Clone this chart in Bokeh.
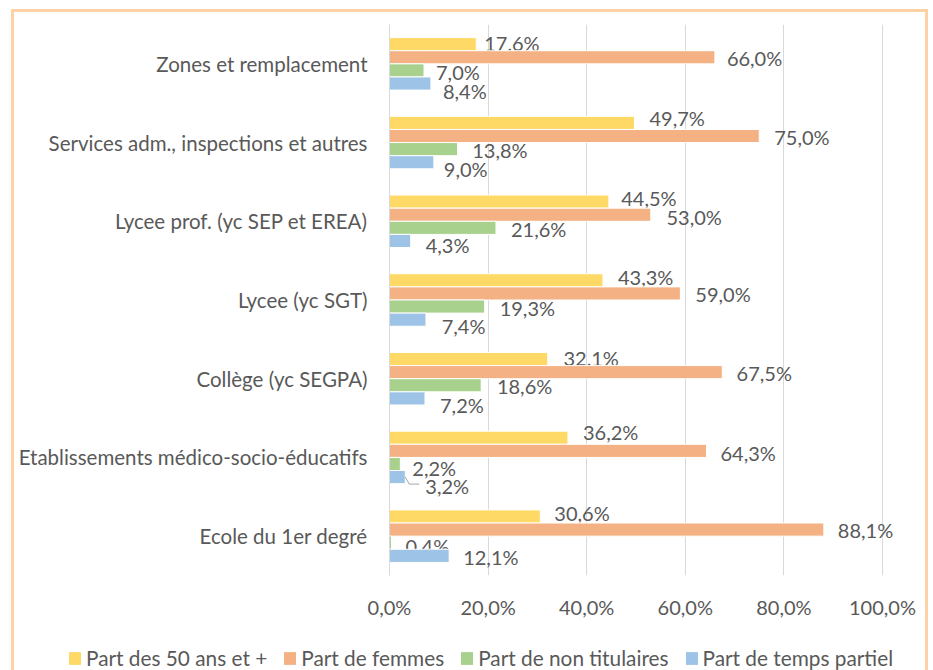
from bokeh.plotting import figure
from bokeh.layouts import column
from bokeh.models import ColumnDataSource, Range1d, FixedTicker, Legend, LegendItem
from bokeh.core.properties import value
from bokeh.embed import file_html
from bokeh.resources import INLINE

# ---- data (bottom to top) ----
categories = [
    "Ecole du 1er degré",
    "Etablissements médico-socio-éducatifs",
    "Collège (yc SEGPA)",
    "Lycee (yc SGT)",
    "Lycee prof. (yc SEP et EREA)",
    "Services adm., inspections et autres",
    "Zones et remplacement",
]
series_names = ["Part des 50 ans et +", "Part de femmes",
                "Part de non titulaires", "Part de temps partiel"]
part_50_plus = [30.6, 36.2, 32.1, 43.3, 44.5, 49.7, 17.6]
part_femmes = [88.1, 64.3, 67.5, 59.0, 53.0, 75.0, 66.0]
part_non_titulaires = [0.4, 2.2, 18.6, 19.3, 21.6, 13.8, 7.0]
part_temps_partiel = [12.1, 3.2, 7.2, 7.4, 4.3, 9.0, 8.4]
x_ticks = [0, 20, 40, 60, 80, 100]
x_tick_labels = ["0,0%", "20,0%", "40,0%", "60,0%", "80,0%", "100,0%"]

# ---- styles / positions ----
colors = ["#FFD966", "#F4B183", "#A9D18E", "#9DC3E6"]
bar_offsets = [0.25, 0.0833, -0.0833, -0.25]
bar_height = 0.1667
label_dx = [
    [14, 15, 15.7, 15, 12.3, 15, 8],
    [14, 14, 14.3, 15, 15.7, 15, 12],
    [14, 12, 15.7, 15, 15, 14.7, 12],
    [14, 20, 15, 15.7, 15, 10, 12],
]
label_dy = [  # pixels, positive = down
    [-3.5, -5.5, -1, -3.3, -4, -5, -1],
    [0, 1.7, 1.3, 1, 2, 1.4, 1],
    [3.0, 4.3, 1, 1.7, 1.5, 1, 2],
    [0.7, 9.3, 6.3, 6.7, 4.5, 6.7, 7],
]
TEXT = "#595959"
GRID = "#D9D9D9"
FONT = "Lato"

series_values = [part_50_plus, part_femmes, part_non_titulaires, part_temps_partiel]

# main canvas
BORDER_L, BORDER_R, BORDER_T, BORDER_B = 375, 2, 12, 55
CANVAS_W, CANVAS_H = 911, 618
FRAME_W = CANVAS_W - BORDER_L - BORDER_R
FRAME_H = CANVAS_H - BORDER_T - BORDER_B
SCALE_W = 493  # pixels spanned by 0..100 %
x_end = 100 * FRAME_W / SCALE_W

p = figure(width=CANVAS_W, height=CANVAS_H, output_backend="svg",
           toolbar_location=None,
           x_range=Range1d(0, x_end), y_range=Range1d(-0.5, len(categories) - 0.5),
           min_border_left=BORDER_L, min_border_top=BORDER_T,
           min_border_right=BORDER_R, min_border_bottom=BORDER_B)
p.frame_align = False
p.outline_line_color = None
p.background_fill_color = "white"
p.border_fill_color = "white"

idx = list(range(len(categories)))
for s, vals in enumerate(series_values):
    ys = [i + bar_offsets[s] for i in idx]
    src = ColumnDataSource(dict(
        y=ys, right=vals,
        label=[f"{v:.1f}%".replace(".", ",") for v in vals],
        dx=label_dx[s], dy=label_dy[s]))
    p.hbar(y="y", left=0, right="right", height=bar_height, source=src,
           fill_color=colors[s], line_color="white", line_width=1)
    p.text(x="right", y="y", text="label", source=src, x_offset="dx", y_offset="dy",
           text_font=value(FONT), text_font_size="20px", text_color=TEXT,
           text_align="left", text_baseline="middle")

# leader line for the "3,2%" label (Etablissements, temps partiel)
k = 1
v = part_temps_partiel[k]
yc = k + bar_offsets[3]
px_x = 100 / SCALE_W
px_y = len(categories) / FRAME_H
p.line(x=[v, v + 4 * px_x, v + 14 * px_x],
       y=[yc, yc - 7 * px_y, yc - 7 * px_y],
       line_color="#A6A6A6", line_width=1)

# axes
xa = p.xaxis[0]
xa.ticker = FixedTicker(ticks=x_ticks)
xa.major_label_overrides = {t: l for t, l in zip(x_ticks, x_tick_labels)}
xa.axis_line_color = None
xa.major_tick_line_color = None
xa.minor_tick_line_color = None
xa.major_tick_out = 0
xa.major_tick_in = 0
xa.major_label_text_font = FONT
xa.major_label_text_font_size = "20px"
xa.major_label_text_color = TEXT
xa.major_label_standoff = 19

ya = p.yaxis[0]
ya.ticker = FixedTicker(ticks=idx)
ya.major_label_overrides = {i: c for i, c in zip(idx, categories)}
ya.axis_line_color = GRID
ya.major_tick_line_color = None
ya.minor_tick_line_color = None
ya.major_tick_out = 0
ya.major_tick_in = 0
ya.major_label_text_font = FONT
ya.major_label_text_font_size = "20.5px"
ya.major_label_text_color = TEXT
ya.major_label_standoff = 22

p.xgrid.ticker = FixedTicker(ticks=x_ticks)
p.xgrid.grid_line_color = GRID
p.ygrid.grid_line_color = None

# legend strip underneath (legend keys only, nothing visible in its frame)
lg = figure(width=CANVAS_W, height=40, output_backend="svg", toolbar_location=None,
            x_range=Range1d(0, 1), y_range=Range1d(0, 1),
            x_axis_location=None, y_axis_location=None,
            min_border_left=0, min_border_right=0, min_border_top=0, min_border_bottom=0)
lg.frame_align = False
lg.outline_line_color = None
lg.grid.visible = False
items = []
for s in range(len(series_names)):
    rr = lg.hbar(y=[float("nan")], left=[0], right=[0], height=0.1,
                 fill_color=colors[s], line_color=None)
    items.append(LegendItem(label=series_names[s], renderers=[rr]))
legend = Legend(items=items, orientation="horizontal", location=(53, 0),
                glyph_width=15, glyph_height=16, label_standoff=4, spacing=15,
                padding=0, margin=0, border_line_color=None,
                background_fill_alpha=0,
                label_text_font=FONT, label_text_font_size="20.8px",
                label_text_color=TEXT)
lg.add_layout(legend, "center")

page = column(p, lg, spacing=0)
page.styles = {"outline": "3px solid #FFD2A6", "margin-left": "14px", "margin-top": "12px"}

open("out.html", "w").write(file_html(page, INLINE))
